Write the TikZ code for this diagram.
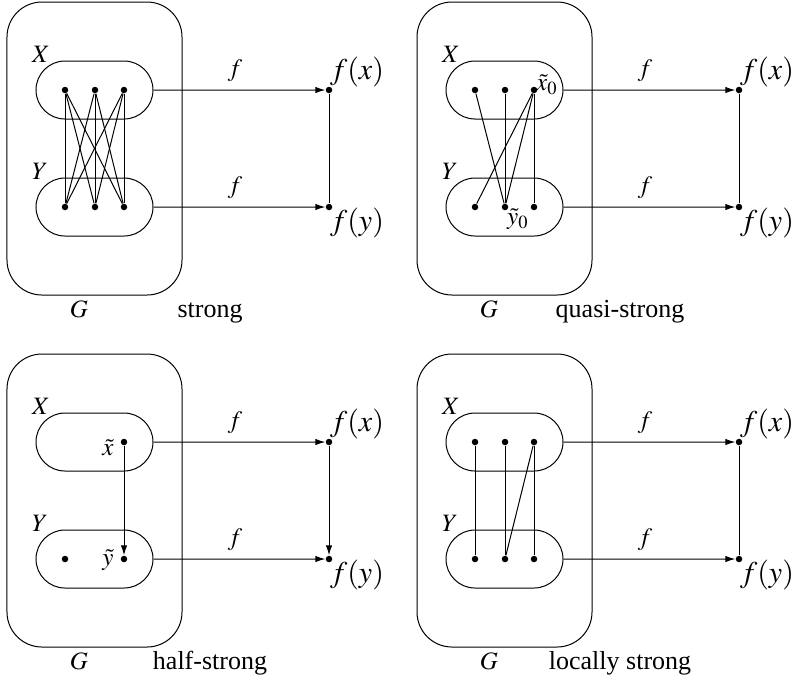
\documentclass[tikz,border=0pt]{standalone}
\usepackage{mathptmx}
\usepackage[no-math]{fontspec}
\setmainfont{Liberation Serif}
\usetikzlibrary{arrows.meta, shapes.misc}

\begin{document}
\begin{tikzpicture}[x=0.4pt, y=-0.4pt,
    every node/.style={font=\normalsize},
    frame/.style={draw, rectangle, rounded corners=14pt, minimum width=70pt,
                  minimum height=117.2pt, inner sep=0pt},
    capsule/.style={draw, rounded rectangle, minimum width=46.8pt,
                    minimum height=23.2pt, inner sep=0pt},
    dot/.style={circle, fill, inner sep=0pt, minimum size=2.6pt},
    image/.style={font=\fontsize{12}{14}\selectfont},
    kindlab/.style={anchor=base, font=\fontsize{10.4}{12}\selectfont},
    link/.style={line width=0.4pt},
    arr/.style={line width=0.4pt, -{Latex[length=4pt, width=2.6pt]}}
]
\useasboundingbox (0,0) rectangle (791,676);
% The four panels: frame G, the sets X and Y, and the map f
\foreach \p/\dx/\dy/\kind/\vtip in {1/0/0/strong/link, 2/410/0/quasi-strong/link,
                                   3/0/352/half-strong/arr, 4/410/352/locally strong/link} {
  \begin{scope}[shift={(\dx,\dy)}]
    \node[frame] (G\p) at (94.5,148.5) {};
    \node[capsule] (X\p) at (94.5,90) {};
    \node[capsule] (Y\p) at (94.5,207) {};
    \node (lX\p) at (41,54) {$X$};
    \node (lY\p) at (40,171) {$Y$};
    \node[anchor=base] (lG\p) at (79,317) {$G$};
    \node[kindlab] (kind\p) at (210,317) {\kind};
    \node[dot] (fx\p) at (329,90) {};
    \node[dot] (fy\p) at (329,207) {};
    \node[image] (lfx\p) at (357,72) {$f(x)$};
    \node[image] (lfy\p) at (357,223) {$f(y)$};
    \draw[arr] (X\p) -- (fx\p);
    \draw[arr] (Y\p) -- (fy\p);
    \node (fa\p) at (235,71) {$f$};
    \node (fb\p) at (235,188) {$f$};
    \draw[\vtip] (fx\p) -- (fy\p);
  \end{scope}
}
% Points of X and Y
\foreach \p/\dx/\dy in {1/0/0, 2/410/0, 4/410/352}
  \foreach \i/\x in {1/65, 2/95, 3/124} {
    \node[dot] (x\p\i) at (\x+\dx,90+\dy) {};
    \node[dot] (y\p\i) at (\x+\dx,207+\dy) {};
  }
\node[dot] (x33) at (124,442) {};
\node[dot] (y31) at (65,559) {};
\node[dot] (y33) at (124,559) {};
% strong
\foreach \i in {1,2,3}
  \foreach \j in {1,2,3}
    \draw[link] (x1\i) -- (y1\j);
% quasi-strong
\draw[link] (x21) -- (y22);
\draw[link] (x22) -- (y22);
\draw[link] (x23) -- (y21);
\draw[link] (x23) -- (y22);
\draw[link] (x23) -- (y23);
\node (tx0) at (547,85) {$\tilde{x}_0$};
\node (ty0) at (518,219) {$\tilde{y}_0$};
% half-strong
\draw[arr] (x33) -- (y33);
\node (tx) at (108,448) {$\tilde{x}$};
\node (ty) at (108,560) {$\tilde{y}$};
% locally strong
\draw[link] (x41) -- (y41);
\draw[link] (x42) -- (y42);
\draw[link] (x43) -- (y42);
\draw[link] (x43) -- (y43);
\end{tikzpicture}
\end{document}
